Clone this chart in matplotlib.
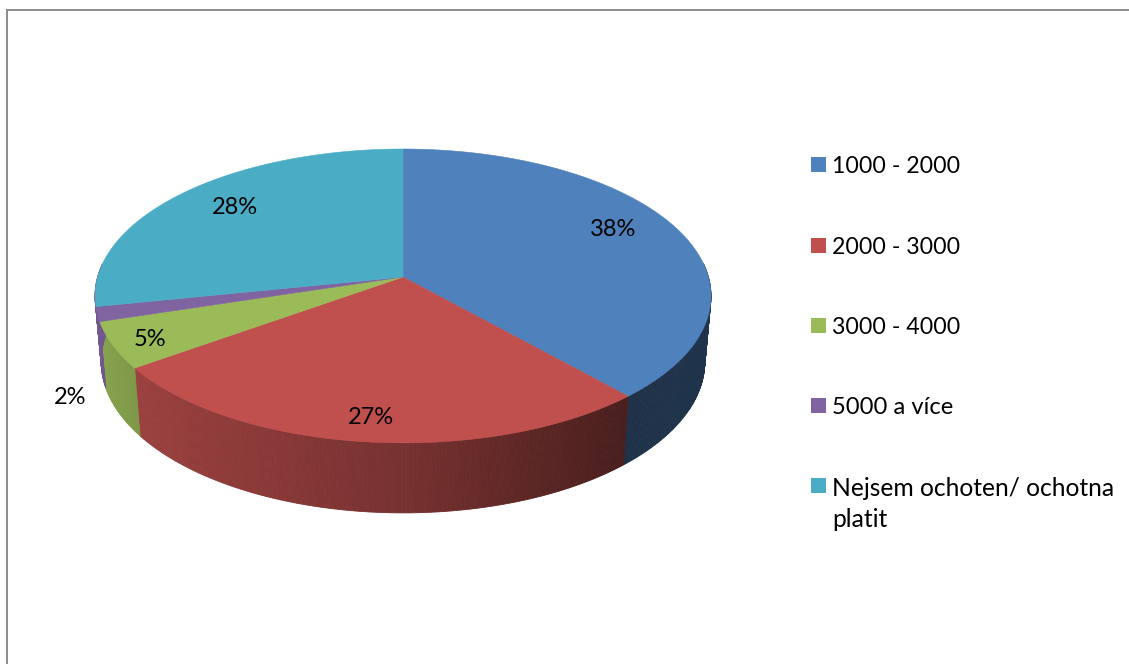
import numpy as np
import matplotlib
matplotlib.use("Agg")
import matplotlib.pyplot as plt
from matplotlib.patches import Rectangle
from matplotlib.colors import to_rgb

categories = ["1000 - 2000", "2000 - 3000", "3000 - 4000", "5000 a více", "Nejsem ochoten/ ochotna\nplatit"]
values = [38.4, 26.7, 5.1, 1.6, 28.2]
labels = ["38%", "27%", "5%", "2%", "28%"]
colors = ["#4F81BD", "#C0504D", "#9BBB59", "#8064A2", "#4BACC6"]
label_pos = [(613, 230), (371, 418), (150, 339), (70, 397), (235, 208)]
legend_y = [164, 245, 325, 405, 485]
legend_fs = [16.7, 16.7, 16.7, 17.1, 17.7]

plt.rcParams['font.family'] = ['Lato', 'DejaVu Sans']

cx, cy, a, b, k = 403.0, 277.0, 305.4, 144.5, 0.129


def top(t):
    X, Y = np.sin(t), np.cos(t)
    d = 1 + k * Y
    return cx + a * X / d, cy - b * Y / d


def bottom(t):
    x, y = top(t)
    return cx + 0.98 * (x - cx), cy + 65 + 1.03 * (y - cy)


def shade(x):
    return np.interp(x, [95, 140, 400, 625, 710], [0.88, 0.80, 0.62, 0.38, 0.40])


fig = plt.figure(figsize=(11.29, 6.64), dpi=100)
ax = fig.add_axes([0, 0, 1, 1])
ax.set_xlim(0, 1129)
ax.set_ylim(664, 0)
ax.axis("off")

# chart frame: only its top and left edges fall inside the picture
ax.plot([7, 7, 1129], [664, 10, 10], color="#8C8C8C", lw=1.4, solid_joinstyle="miter")

fr = np.cumsum([0] + values) / np.sum(values) * 2 * np.pi

# side walls: the last slice's wall is hidden, the purple wall runs to the silhouette
for i, c in enumerate(colors[:-1]):
    lo = max(fr[i], np.pi * 0.47)
    hi = np.pi * 1.53 if i == len(colors) - 2 else fr[i + 1]
    if hi <= lo:
        continue
    ts = np.linspace(lo, hi, int((hi - lo) * 120) + 2)
    base = np.array(to_rgb(c))
    for t0, t1 in zip(ts[:-1], ts[1:]):
        x0, y0 = top(t0)
        x1, y1 = top(t1)
        x2, y2 = bottom(t1)
        x3, y3 = bottom(t0)
        col = base * shade((x0 + x1) / 2)
        ax.fill([x0, x1, x2, x3], [y0, y1, y2, y3], color=col, lw=0.6, zorder=2)

# top faces
for i, c in enumerate(colors):
    ts = np.linspace(fr[i], fr[i + 1], 200)
    x, y = top(ts)
    ax.fill(np.r_[cx, x], np.r_[cy, y], color=c, lw=0.4, zorder=3)

for (x, y), s in zip(label_pos, labels):
    ax.text(x, y, s, fontsize=17, ha="center", va="center", color="black", zorder=5)

for y, c, s, fs in zip(legend_y, colors, categories, legend_fs):
    ax.add_patch(Rectangle((811, y - 7), 15, 15, fc=c, ec="none", zorder=5))
    ax.text(832, y - 8, s, fontsize=fs, ha="left", va="top", color="black",
            linespacing=1.4, zorder=5)

fig.savefig("out.png", dpi=100)
